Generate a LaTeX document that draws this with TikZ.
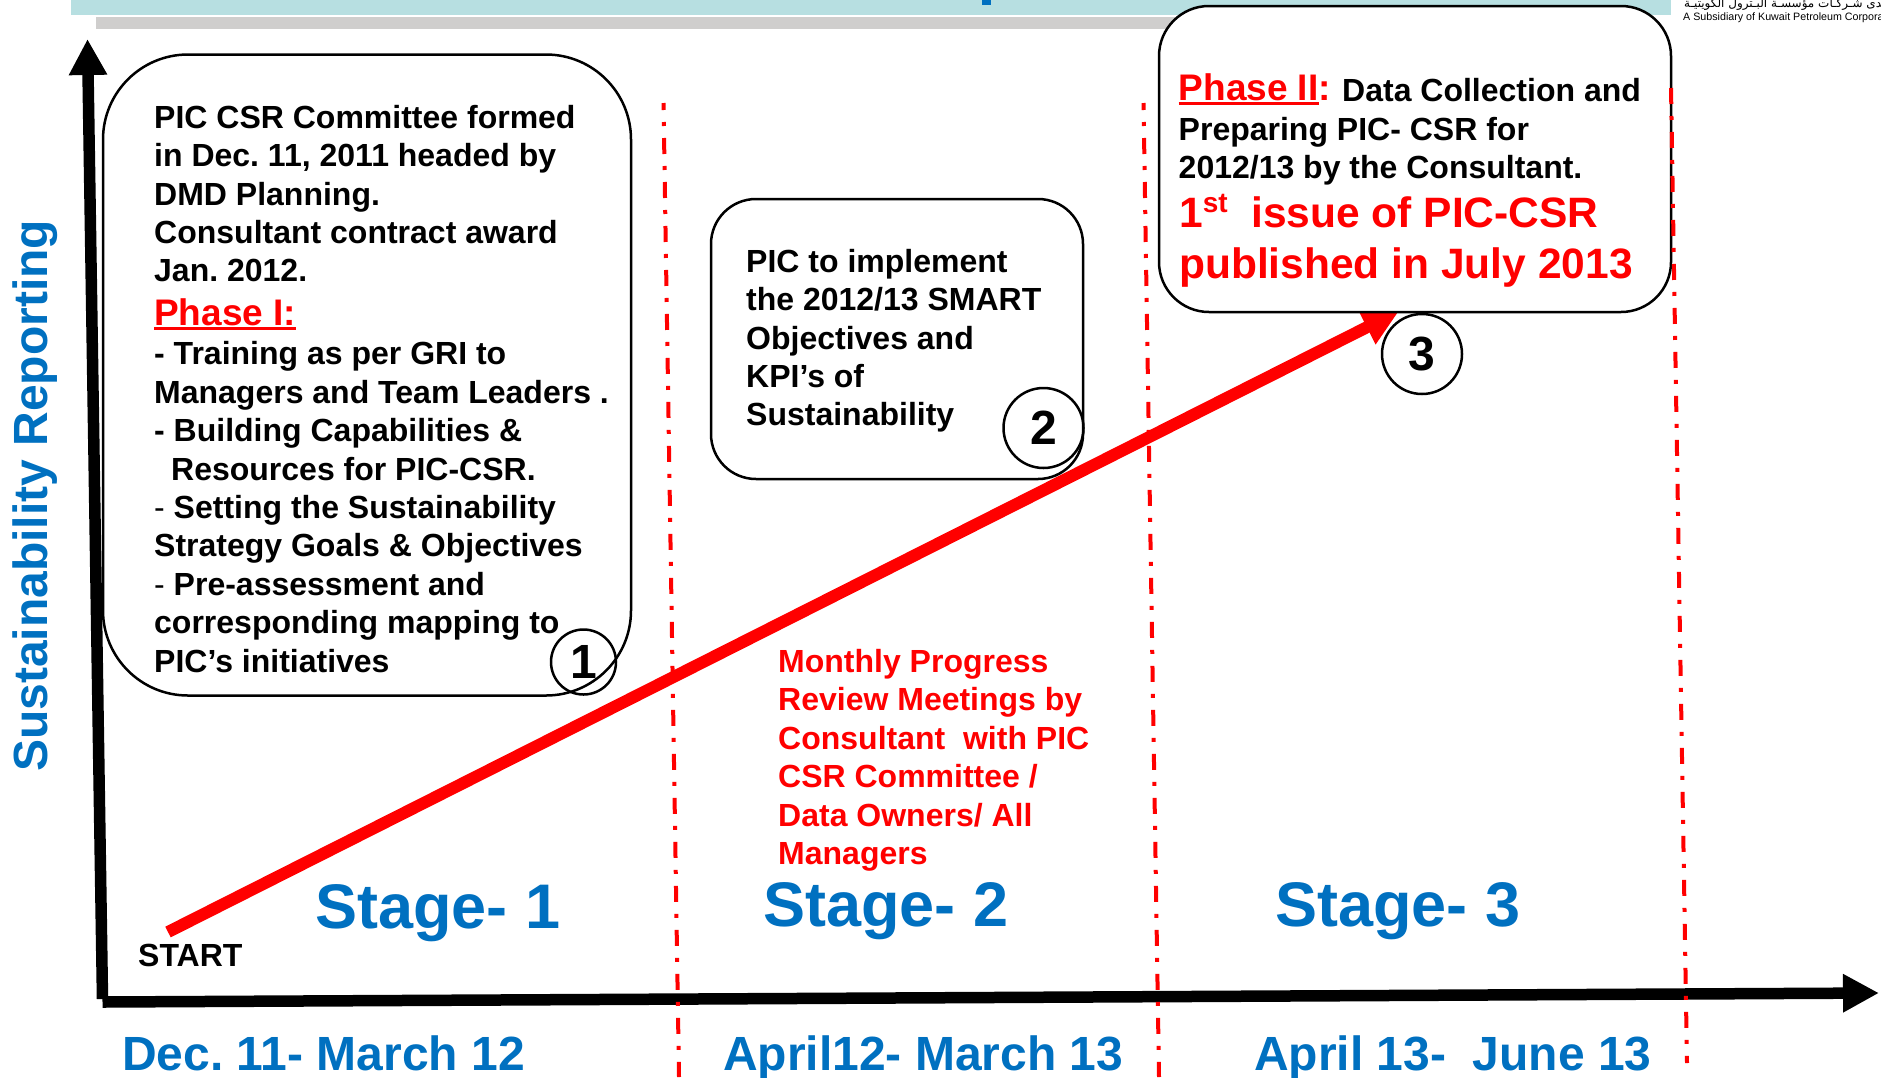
\documentclass[tikz,border=0pt]{standalone}
\usepackage{fontspec}
\setmainfont{Liberation Sans}
\newfontfamily\arabicfont[Script=Arabic]{DejaVu Sans}
\usepackage{xcolor}
\usepackage{tikz}
\usetikzlibrary{arrows.meta, positioning}
\TeXXeTstate=1
\frenchspacing
\definecolor{stageblue}{HTML}{0070C0}
\definecolor{bandteal}{HTML}{B7DFE1}
\definecolor{bandgray}{HTML}{CFCECD}
\newcommand{\redline}[1]{\setbox0\hbox{#1}\rlap{\rule[-5pt]{\wd0}{3.5pt}}\box0}
\tikzset{
    body/.style={anchor=north west, inner sep=0pt, align=left, font=\fontsize{32}{38.4}\selectfont\bfseries},
    redbody/.style={body, text=red},
    phase/.style={anchor=base west, inner sep=0pt, text=red, font=\fontsize{37}{40}\selectfont\bfseries},
    bigred/.style={anchor=base west, inner sep=0pt, text=red, font=\fontsize{42.5}{50}\selectfont\bfseries},
    stage/.style={anchor=base west, inner sep=0pt, text=stageblue, font=\fontsize{63}{70}\selectfont\bfseries},
    period/.style={anchor=base west, inner sep=0pt, text=stageblue, font=\fontsize{48}{54}\selectfont\bfseries},
    card/.style={draw, line width=2.5pt, fill=white, rounded corners=#1, inner sep=0pt, outer sep=0pt},
    badge/.style={draw, circle, line width=2.5pt, minimum size=#1, inner sep=0pt, font=\fontsize{48}{50}\selectfont\bfseries},
    axis/.style={line width=11.5pt, -{Triangle[length=36pt,width=36pt]}},
    divider/.style={red, line width=4pt, dash pattern=on 16pt off 12pt on 4pt off 12pt, dash phase=9pt},
}
\begin{document}
\begin{tikzpicture}[x=1pt,y=-1pt]
    \useasboundingbox (0,0) rectangle (1881,1077);
    \fill[bandteal] (71,0) rectangle (1671,15);
    \fill[bandgray] (96,17) rectangle (1639,29);
    \fill[stageblue] (982,0) rectangle (991,5);

    \coordinate (origin) at (102.5,1002);
    \coordinate (ytop) at (87.5,39);
    \coordinate (xend) at (1879,993);
    \draw[axis] (102.5,999) -- (ytop);
    \draw[axis] (origin) -- (xend);

    \coordinate (d1a) at (663.5,103);
    \coordinate (d1b) at (679,1077);
    \coordinate (d2a) at (1143.5,103);
    \coordinate (d2b) at (1159,1077);
    \coordinate (d3a) at (1671,88);
    \coordinate (d3b) at (1687,1063);
    \draw[divider] (d1a) -- (d1b);
    \draw[divider] (d2a) -- (d2b);

    \coordinate (start) at (168,932);
    \coordinate (tip) at (1399,311);
    \draw[red, line width=12pt, -{Triangle[length=36pt,width=36pt]}] (start) -- (tip);

    \node[card=85pt, minimum width=528pt, minimum height=641pt] (box1) at (367,375) {};
    \node[card=45pt, minimum width=372pt, minimum height=280pt] (box2) at (897,339) {};
    \node[card=50pt, minimum width=512pt, minimum height=306pt] (box3) at (1415,159) {};
    \draw[divider, dash phase=0pt] (d3a) -- (d3b);

    \node[body] (t1a) at (154,105) {PIC CSR Committee formed\\in Dec. 11, 2011 headed by\\DMD Planning.\\Consultant contract award\\Jan. 2012.};
    \node[phase] (phase1) at (154,325) {\redline{Phase I:}};
    \node[body] (t1b) at (154,341.5) {- Training as per GRI to\\Managers and Team Leaders .\\- Building Capabilities \&\\\hspace*{17pt}Resources for PIC-CSR.\\{\mdseries -} Setting the Sustainability\\Strategy Goals \& Objectives\\{\mdseries -} Pre-assessment and\\corresponding mapping to\\PIC’s initiatives};

    \node[body] (t2) at (746,249) {PIC to implement\\the 2012/13 SMART\\Objectives and\\KPI’s of\\Sustainability};

    \node[phase] (phase2) at (1178.5,100) {\redline{Phase II}:};
    \node[body, anchor=base west] (t3) at (1342,101) {Data Collection and};
    \node[body] (t3b) at (1178.5,117) {Preparing PIC- CSR for\\2012/13 by the Consultant.};
    \node[bigred] (issue) at (1179,227) {1\raisebox{15pt}{\fontsize{28}{28}\selectfont st}\ \ issue of PIC-CSR};
    \node[bigred] (pub) at (1179,278) {published in July 2013};

    \node[redbody] (review) at (778,649) {Monthly Progress\\Review Meetings by\\Consultant\ \ with PIC\\CSR Committee /\\Data Owners/ All\\Managers};

    \node[badge=65pt] (n1) at (583.5,662) {1};
    \node[badge=80pt] (n2) at (1043.5,428) {2};
    \node[badge=80pt] (n3) at (1422,354) {3};

    \node[stage] (s1) at (315,928) {Stage- 1};
    \node[stage] (s2) at (763,926) {Stage- 2};
    \node[stage] (s3) at (1275,926) {Stage- 3};
    \node[period] (p1) at (122,1070) {Dec. 11- March 12};
    \node[period] (p2) at (723,1070) {April12- March 13};
    \node[period] (p3) at (1254,1070) {April 13-\ \ June 13};
    \node[body, anchor=base west] (begin) at (138,966) {START};
    \node[period, rotate=90] (ylabel) at (47.5,772) {Sustainability Reporting};

    \begin{scope}
        \clip (1675,0) rectangle (1881,30);
        \node[anchor=base east, inner sep=0pt, font=\fontsize{12}{13}\selectfont\arabicfont] (logoar) at (1893,7) {\beginR إحدى شـركـات مؤسسـة البـترول الكويتيـة\endR};
        \node[anchor=base west, inner sep=0pt, font=\fontsize{10.7}{12}\selectfont] (logoen) at (1683,20) {A Subsidiary of Kuwait Petroleum Corporation};
    \end{scope}
\end{tikzpicture}
\end{document}
